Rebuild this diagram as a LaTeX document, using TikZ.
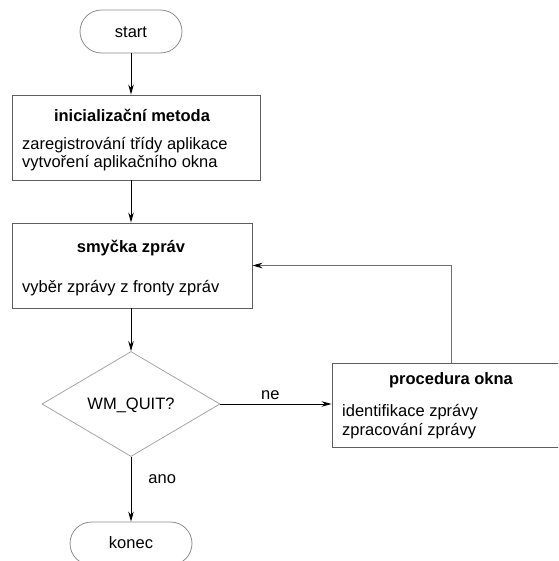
\documentclass[tikz,border=0pt]{standalone}
\usepackage{fontspec}
\setmainfont{Liberation Sans}
\usetikzlibrary{shapes.geometric,arrows.meta}
\definecolor{frameC}{RGB}{95,95,95}
\definecolor{diaC}{RGB}{165,165,165}
\definecolor{termC}{RGB}{140,140,140}
\definecolor{fbC}{RGB}{110,110,110}
\tikzset{
  frame/.style={draw=frameC, line width=0.9pt, minimum width=#1, inner sep=0pt, minimum height=85pt},
  term/.style={draw=termC, line width=0.8pt, rounded corners=21.5pt, minimum height=43pt, inner sep=0pt, minimum width=#1},
  txt/.style={font=\fontsize{16.5}{18.5}\selectfont, inner sep=0pt},
  ttl/.style={font=\fontsize{16.5}{18.5}\selectfont\bfseries, inner sep=0pt},
  arr/.style={draw=black, line width=0.9pt, -{Stealth[length=10pt,width=5.5pt]}},
  fb/.style={draw=fbC, line width=0.9pt, -{Stealth[length=10pt,width=5.5pt,color=black]}},
}
\begin{document}
\begin{tikzpicture}[x=1pt,y=-1pt]
\useasboundingbox (0,0) rectangle (558,561);
\clip (0,0) rectangle (558,561);
% terminals
\node[term=102pt] (start) at (131,31.5) {};
\node[txt] (startT) at (131,32) {start};
\node[term=122pt] (kon) at (131,543.5) {};
\node[txt] (konT) at (131,543) {konec};
% init box
\node[frame=248pt] (init) at (136,137.5) {};
\node[ttl] (initT) at (132,115) {inicializační metoda};
\node[txt, anchor=west] (initA) at (22,145) {zaregistrování třídy aplikace};
\node[txt, anchor=west] (initB) at (22,163.5) {vytvoření aplikačního okna};
% loop box
\node[frame=240pt] (smy) at (132,265.5) {};
\node[ttl] (smyT) at (131,248) {smyčka zpráv};
\node[txt, anchor=west] (smyA) at (22,288) {vyběr zprávy z fronty zpráv};
% diamond
\node[draw=diaC, line width=0.8pt, diamond, aspect=1.7, minimum width=178pt, minimum height=105pt, inner sep=0pt] (dia) at (131,404) {};
\node[txt] (diaT) at (131,405) {WM\_QUIT?};
% procedure box
\node[frame=238pt, minimum height=84pt] (proc) at (451,405) {};
\node[ttl] (procT) at (451,380) {procedura okna};
\node[txt, anchor=west] (procA) at (342,412) {identifikace zprávy};
\node[txt, anchor=west] (procB) at (342,431) {zpracování zprávy};
% connectors
\draw[arr] (start.south) -- (start.south |- init.north);
\draw[arr] (start.south |- init.south) -- (start.south |- smy.north);
\draw[arr] (dia.north |- smy.south) -- (dia.north);
\draw[arr] (dia.south) -- (kon.north) node[pos=0.35, right=17pt, txt] (ano) {ano};
\draw[arr] (dia.east) -- (dia.east -| proc.west) node[pos=0.45, above=4pt, txt] (ne) {ne};
\draw[fb] (proc.north) |- (smy.east);
\end{tikzpicture}
\end{document}
